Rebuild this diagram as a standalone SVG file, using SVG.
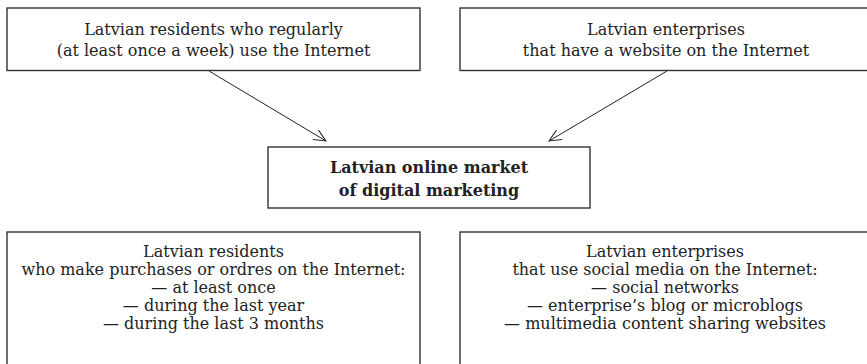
<svg xmlns="http://www.w3.org/2000/svg" width="867" height="364" viewBox="0 0 867 364">
<style>
.box{fill:#fff;stroke:#333;stroke-width:1.4}
.t{font-family:"DejaVu Serif","Liberation Serif",serif;font-size:16px;fill:#222;text-anchor:middle}
.b{font-weight:bold;font-size:16px}
.c{stroke:#222;stroke-width:1;fill:none}
</style>
<defs>
<marker id="arr" viewBox="0 0 14 14" refX="13" refY="7" markerWidth="14" markerHeight="14" markerUnits="userSpaceOnUse" orient="auto">
<path d="M1,1.5 L13,7 L1,12.5" fill="none" stroke="#222" stroke-width="1"/>
</marker>
</defs>
<rect width="867" height="364" fill="#fff"/>
<g id="residents-internet">
<rect class="box" x="7" y="8" width="413" height="62.5"/>
<text class="t" x="213.5" y="35">Latvian residents who regularly</text>
<text class="t" x="213.5" y="56">(at least once a week) use the Internet</text>
</g>
<g id="enterprises-website">
<rect class="box" x="460" y="8" width="412" height="62.5"/>
<text class="t" x="666" y="35">Latvian enterprises</text>
<text class="t" x="666" y="56">that have a website on the Internet</text>
</g>
<g id="market">
<rect class="box" x="268" y="147" width="322" height="61"/>
<text class="t b" x="429" y="173">Latvian online market</text>
<text class="t b" x="429" y="196">of digital marketing</text>
</g>
<g id="residents-purchases">
<rect class="box" x="7" y="232" width="413" height="140"/>
<text class="t" x="213.5" y="257">Latvian residents</text>
<text class="t" x="213.5" y="275">who make purchases or ordres on the Internet:</text>
<text class="t" x="213.5" y="293">— at least once</text>
<text class="t" x="213.5" y="311">— during the last year</text>
<text class="t" x="213.5" y="329">— during the last 3 months</text>
</g>
<g id="enterprises-social">
<rect class="box" x="460" y="232" width="412" height="140"/>
<text class="t" x="665" y="257">Latvian enterprises</text>
<text class="t" x="665" y="275">that use social media on the Internet:</text>
<text class="t" x="665" y="293">— social networks</text>
<text class="t" x="665" y="311">— enterprise’s blog or microblogs</text>
<text class="t" x="665" y="329">— multimedia content sharing websites</text>
</g>
<g id="connectors">
<line class="c" x1="209" y1="71" x2="326" y2="141" marker-end="url(#arr)"/>
<line class="c" x1="667" y1="71" x2="549" y2="141" marker-end="url(#arr)"/>
</g>
</svg>
